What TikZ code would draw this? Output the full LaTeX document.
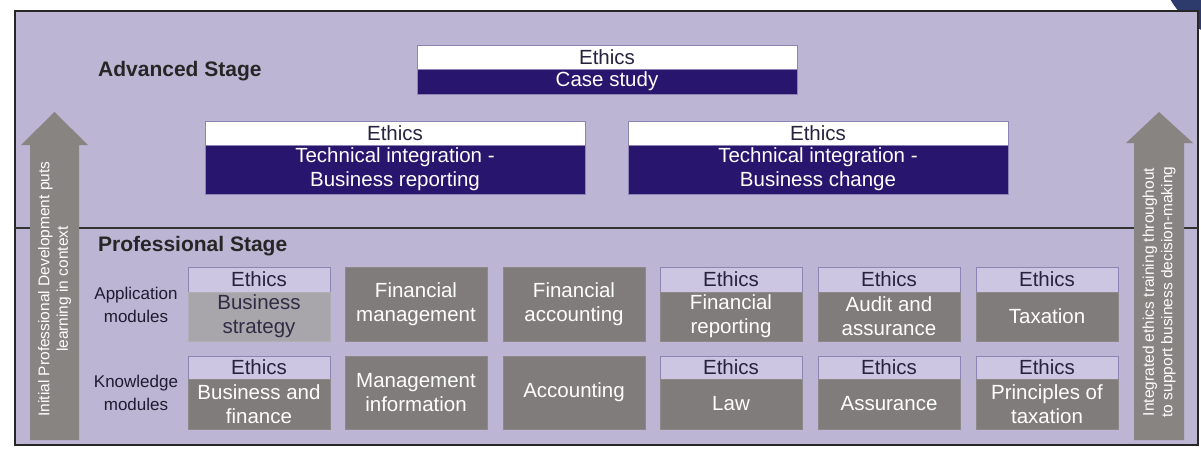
\documentclass[tikz,border=0pt]{standalone}
\usepackage{fontspec}
\setmainfont{Liberation Sans}
\definecolor{lav}{RGB}{188,181,211}
\definecolor{lavlt}{RGB}{204,198,226}
\definecolor{lavbd}{RGB}{140,132,178}
\definecolor{navy}{RGB}{40,22,110}
\definecolor{blob}{RGB}{44,58,108}
\definecolor{modgray}{RGB}{128,124,123}
\definecolor{modlt}{RGB}{168,166,171}
\definecolor{arrgray}{RGB}{136,132,130}
\definecolor{txtdk}{RGB}{40,34,62}
\tikzset{
  box/.style={inner sep=0pt, outer sep=0pt, align=center, font=\fontsize{20.5}{24}\selectfont},
  whitestrip/.style={box, fill=white, draw=lavbd, line width=0.8pt, text=txtdk, minimum width=380},
  bluestrip/.style={box, fill=navy, draw=lavbd, line width=0.8pt, text=white, minimum width=380},
  ethstrip/.style={box, fill=lavlt, draw=lavbd, line width=0.6pt, text=txtdk, minimum width=142},
  modbox/.style={box, fill=modgray, draw=modgray!90!white, line width=0.6pt, text=white, minimum width=142},
  modlight/.style={box, fill=modlt, draw=modlt!90!white, line width=0.6pt, text=txtdk!90!gray, minimum width=142},
  stagelbl/.style={anchor=west, inner sep=0pt, font=\fontsize{21}{25}\selectfont\bfseries, text=black!85},
  rowlbl/.style={align=center, inner sep=0pt, font=\fontsize{17}{23}\selectfont, text=txtdk!80!black},
  arrtxt/.style={rotate=90, align=center, inner sep=0pt, text=white, font=\fontsize{15.5}{18.5}\selectfont},
}
\begin{document}
\begin{tikzpicture}[x=1pt,y=-1pt]
\useasboundingbox (0,0) rectangle (1201,455);
\begin{scope}
\clip (0,0) rectangle (1201,455);
\fill[blob] (1240,-40) circle (80);
\end{scope}
% frame
\draw[fill=lav, line width=2pt, draw=black!85] (15,11) rectangle (1198,445);
\draw[line width=2pt, draw=black!80] (15,228) -- (1198,228);
% arrows
\fill[arrgray] (30,440) -- (30,145) -- (21,145) -- (54.5,112) -- (88,145) -- (79,145) -- (79,440) -- cycle;
\fill[arrgray] (1134,440) -- (1134,143) -- (1126,143) -- (1159,112) -- (1193,143) -- (1184,143) -- (1184,440) -- cycle;
\node[arrtxt] (ltxt) at (54.5,289) {Initial Professional Development puts\\learning in context};
\node[arrtxt] (rtxt) at (1159,292) {Integrated ethics training throughout\\to support business decision-making};
% stage labels
\node[stagelbl] (adv) at (98,71) {Advanced Stage};
\node[stagelbl] (prof) at (98,246) {Professional Stage};
% advanced boxes
\node[whitestrip, minimum height=24] (cse) at (607,57) {Ethics};
\node[bluestrip, minimum height=25] (cs) at (607,81.5) {Case study};
\node[whitestrip, minimum height=24] (tre) at (395,133) {Ethics};
\node[bluestrip, minimum height=49] (tr) at (395,169.5) {Technical integration -\\Business reporting};
\node[whitestrip, minimum height=24] (tce) at (818,133) {Ethics};
\node[bluestrip, minimum height=49] (tc) at (818,169.5) {Technical integration -\\Business change};
% row labels
\node[rowlbl] (app) at (136,305) {Application\\modules};
\node[rowlbl] (kno) at (136,393) {Knowledge\\modules};
% application modules
\node[ethstrip, minimum height=25] (a1e) at (259,279.5) {Ethics};
\node[modlight, minimum height=49] (a1) at (259,316.5) {Business\\strategy};
\node[modbox, minimum height=74] (a2) at (416,304) {Financial\\management};
\node[modbox, minimum height=74] (a3) at (574,304) {Financial\\accounting};
\node[ethstrip, minimum height=25] (a4e) at (731,279.5) {Ethics};
\node[modbox, minimum height=49] (a4) at (731,316.5) {Financial\\reporting};
\node[ethstrip, minimum height=25] (a5e) at (889,279.5) {Ethics};
\node[modbox, minimum height=49] (a5) at (889,316.5) {Audit and\\assurance};
\node[ethstrip, minimum height=25] (a6e) at (1047,279.5) {Ethics};
\node[modbox, minimum height=49] (a6) at (1047,316.5) {Taxation};
% knowledge modules
\node[ethstrip, minimum height=23] (k1e) at (259,367.5) {Ethics};
\node[modbox, minimum height=50] (k1) at (259,404) {Business and\\finance};
\node[modbox, minimum height=73] (k2) at (416,392.5) {Management\\information};
\node[modbox, minimum height=73] (k3) at (574,392.5) {Accounting};
\node[ethstrip, minimum height=23] (k4e) at (731,367.5) {Ethics};
\node[modbox, minimum height=50] (k4) at (731,404) {Law};
\node[ethstrip, minimum height=23] (k5e) at (889,367.5) {Ethics};
\node[modbox, minimum height=50] (k5) at (889,404) {Assurance};
\node[ethstrip, minimum height=23] (k6e) at (1047,367.5) {Ethics};
\node[modbox, minimum height=50] (k6) at (1047,404) {Principles of\\taxation};
\end{tikzpicture}
\end{document}
